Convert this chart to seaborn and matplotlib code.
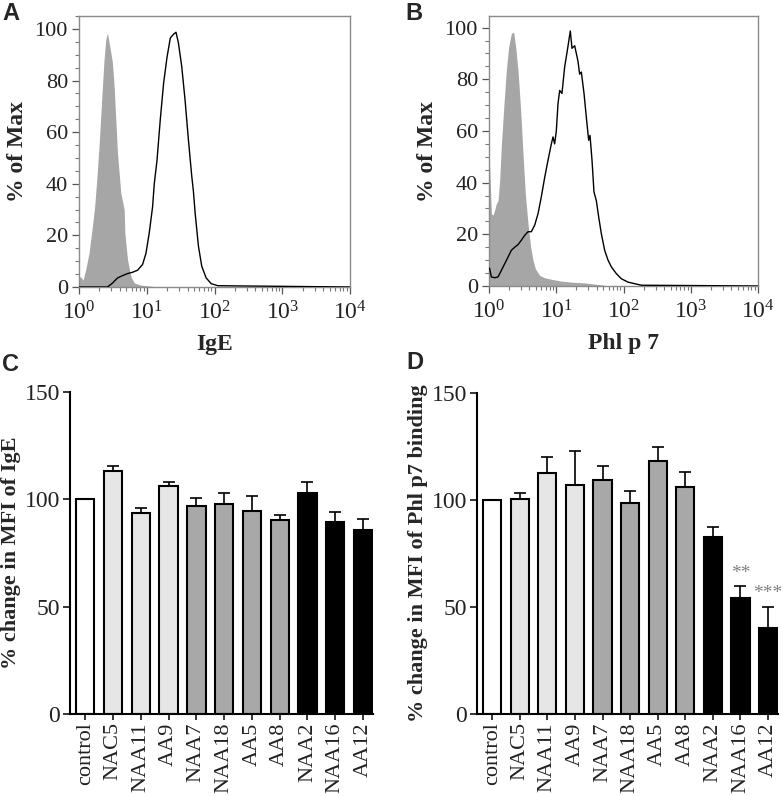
import numpy as np
import pandas as pd
import matplotlib
matplotlib.use("Agg")
import matplotlib.pyplot as plt
import seaborn as sns
from matplotlib.ticker import LogLocator, LogFormatterMathtext, MultipleLocator, NullFormatter

# ---------------- data ----------------
# Panel A (IgE) histograms: log10 intensity and % of max
a_iso_log = [0.0, 0.025, 0.059, 0.099, 0.148, 0.198, 0.232, 0.262, 0.296, 0.321,
             0.346, 0.370, 0.395, 0.420, 0.459, 0.494, 0.519, 0.543, 0.568, 0.617,
             0.657, 0.667, 0.677, 0.716, 0.765, 0.815, 0.900, 1.000, 1.086, 1.090]
a_iso_pct = [3.5, 4.1, 2.6, 6.7, 13.2, 23.5, 31.3, 41.6, 54.5, 66.1,
             77.8, 88.1, 95.9, 98.4, 92.6, 86.8, 77.8, 64.9, 51.9, 36.4,
             31.3, 30.0, 20.9, 10.6, 4.1, 1.6, 0.8, 0.5, 0.3, 0.0]
a_ige_log = [0.0, 0.420, 0.494, 0.568, 0.642, 0.716, 0.790, 0.864, 0.938, 0.988,
             1.037, 1.086, 1.111, 1.151, 1.200, 1.249, 1.299, 1.348, 1.398, 1.432,
             1.467, 1.516, 1.565, 1.615, 1.664, 1.689, 1.714, 1.763, 1.812, 1.877,
             1.951, 2.049, 4.0]
a_ige_pct = [0, 0, 1.5, 3.5, 4.4, 5.2, 5.7, 6.5, 8.7, 13,
             21, 31, 40, 49, 65, 79, 89, 96.5, 98, 98.7,
             94.6, 85.5, 72.6, 57, 43, 37, 28.7, 15.8, 8, 3.5,
             1.3, 0.5, 0]

# Panel B (Phl p 7) histograms
b_iso_log = [0.0, 0.010, 0.035, 0.059, 0.084, 0.109, 0.134, 0.159, 0.183, 0.223,
             0.258, 0.292, 0.332, 0.367, 0.397, 0.431, 0.471, 0.506, 0.540, 0.580,
             0.620, 0.654, 0.689, 0.753, 0.828, 0.927, 1.076, 1.224, 1.423, 1.621,
             1.720, 1.730]
b_iso_pct = [47, 46, 28, 27.4, 29.3, 31.9, 33, 41, 54, 70.6,
             83.5, 92.5, 97.7, 98.3, 92.5, 83.5, 68, 51, 35.7, 24,
             15, 10, 6.7, 4.1, 3.2, 2.6, 1.9, 1.5, 1.2, 0.6,
             0.3, 0]
b_phl_log = [0.0, 0.010, 0.035, 0.084, 0.134, 0.183, 0.233, 0.283, 0.332, 0.382,
             0.431, 0.481, 0.530, 0.580, 0.629, 0.679, 0.729, 0.778, 0.828, 0.877,
             0.927, 0.952, 0.976, 1.001, 1.026, 1.051, 1.085, 1.125, 1.165, 1.209,
             1.234, 1.274, 1.323, 1.348, 1.373, 1.413, 1.447, 1.482, 1.502, 1.532,
             1.561, 1.596, 1.631, 1.670, 1.720, 1.770, 1.819, 1.893, 1.968, 2.067,
             2.166, 2.265, 4.0]
b_phl_pct = [7, 6.7, 3.5, 3.2, 3.5, 6, 8.6, 11.2, 13.8, 15,
             16, 17.7, 19.6, 21, 21, 23.5, 28, 34.5, 42, 48.6,
             55, 57.7, 55, 60, 70.6, 75.7, 74.5, 84.8, 91.2, 98.7,
             92, 93, 87, 82, 82.8, 74.5, 65.4, 56.4, 58.3, 48.6,
             36.4, 33, 26.7, 20.3, 13.8, 10, 7.4, 4.8, 2.8, 1.5,
             0.9, 0.3, 0]

# Panels C / D bar data
categories = ["control", "NAC5", "NAA11", "AA9", "NAA7", "NAA18", "AA5", "AA8",
              "NAA2", "NAA16", "AA12"]
groups = ["control", "g1", "g1", "g1", "g2", "g2", "g2", "g2", "g3", "g3", "g3"]
ige_mean = [100, 113.0, 93.7, 106.3, 97.0, 97.9, 94.5, 90.2, 102.9, 89.4, 85.5]
ige_err = [0, 2.7, 2.1, 1.6, 3.4, 5.0, 7.2, 2.6, 5.0, 4.5, 5.4]
phl_mean = [100, 100.6, 112.6, 107.1, 109.2, 98.4, 118.0, 106.3, 82.5, 54.1, 40.1]
phl_err = [0, 2.9, 7.3, 15.6, 6.5, 5.6, 6.6, 6.6, 4.7, 5.5, 10.1]
phl_signif = {"NAA16": "**", "AA12": "***"}

# ---------------- style ----------------
sns.set_theme(style="ticks")
plt.rcParams['font.family'] = ['Liberation Serif', 'DejaVu Serif']
plt.rcParams['mathtext.fontset'] = 'custom'
plt.rcParams['mathtext.rm'] = 'Liberation Serif'
plt.rcParams['mathtext.it'] = 'Liberation Serif:italic'
plt.rcParams['mathtext.bf'] = 'Liberation Serif:bold'

group_colors = {"control": "#ffffff", "g1": "#e6e6e6", "g2": "#a8a8a8", "g3": "#000000"}
FILL = "#a6a6a6"
W, H = 783, 796
fig = plt.figure(figsize=(W / 100, H / 100), dpi=100)


def add_ax(left, top, right, bottom):
    return fig.add_axes([left / W, 1 - bottom / H, (right - left) / W, (bottom - top) / H])


def hist_panel(ax, iso_log, iso_pct, pos_log, pos_pct, xlabel, ytop):
    xi = 10 ** np.array(iso_log)
    ax.fill_between(xi, iso_pct, 0, color=FILL, linewidth=0, zorder=1)
    df = pd.DataFrame({"x": 10 ** np.array(pos_log), "y": pos_pct})
    sns.lineplot(data=df, x="x", y="y", color="black", linewidth=1.0, sort=False,
                 estimator=None, ax=ax, zorder=3)
    ax.set_xscale("log")
    ax.set_xlim(1, 1e4)
    ax.set_ylim(0, ytop)
    ax.xaxis.set_major_locator(LogLocator(base=10, numticks=10))
    ax.xaxis.set_major_formatter(LogFormatterMathtext())
    ax.xaxis.set_minor_locator(LogLocator(base=10, subs=np.arange(2, 10), numticks=20))
    ax.xaxis.set_minor_formatter(NullFormatter())
    ax.yaxis.set_major_locator(MultipleLocator(20))
    ax.yaxis.set_minor_locator(MultipleLocator(5))
    for s in ax.spines.values():
        s.set_visible(True)
        s.set_color("#8a8a8a")
        s.set_linewidth(1.0)
    ax.tick_params(which="major", direction="out", length=5, width=0.9, color="#555555",
                   labelsize=16, labelcolor="#222222", pad=3)
    ax.tick_params(axis="x", which="major", labelsize=17, pad=5)
    ax.tick_params(which="minor", direction="out", length=3, width=0.8, color="#777777")
    ax.set_xlabel(xlabel, fontsize=17, fontweight="bold", labelpad=7)
    ax.set_ylabel("% of Max", fontsize=17, fontweight="bold", labelpad=5)


def bar_panel(ax, means, errs, ylabel, signif=None):
    df = pd.DataFrame({"cat": categories, "val": means, "grp": groups})
    pal = {c: group_colors[g] for c, g in zip(categories, groups)}
    sns.barplot(data=df, x="cat", y="val", hue="cat", palette=pal, legend=False,
                width=0.66, edgecolor="black", linewidth=1.5, ax=ax, zorder=2)
    xs = np.arange(len(categories))
    ax.errorbar(xs, means, yerr=[np.zeros(len(errs)), errs], fmt="none", ecolor="black",
                elinewidth=1.2, capsize=4, capthick=1.2, zorder=1)
    ax.set_xlim(-0.55, len(categories) - 1 + 0.36)
    ax.set_ylim(0, 150)
    ax.yaxis.set_major_locator(MultipleLocator(50))
    ax.set_xticks(xs)
    ax.set_xticklabels(categories, rotation=90)
    sns.despine(ax=ax)
    for s in ["left", "bottom"]:
        ax.spines[s].set_linewidth(1.5)
        ax.spines[s].set_color("black")
    ax.tick_params(axis="y", direction="out", length=5, width=1.3, labelsize=17, pad=2,
                   labelcolor="#222222")
    ax.tick_params(axis="x", direction="out", length=4, width=1.3, labelsize=16, pad=2,
                   labelcolor="#222222")
    ax.set_xlabel("")
    ax.set_ylabel(ylabel, fontsize=16, fontweight="bold", labelpad=3)
    if signif:
        for cat, txt in signif.items():
            i = categories.index(cat)
            top = means[i] + errs[i]
            ax.text(i, top + 6, txt, ha="center", va="center", fontsize=14,
                    color="#808080")


axA = add_ax(79, 16, 350, 287)
hist_panel(axA, a_iso_log, a_iso_pct, a_ige_log, a_ige_pct, "IgE", 105)
axB = add_ax(489, 16, 758, 286)
hist_panel(axB, b_iso_log, b_iso_pct, b_phl_log, b_phl_pct, "Phl p 7", 104.5)

axC = add_ax(70, 392, 373, 714)
bar_panel(axC, ige_mean, ige_err, "% change in MFI of IgE")
axD = add_ax(477, 393, 778, 714)
bar_panel(axD, phl_mean, phl_err, "% change in MFI of Phl p7 binding", phl_signif)

for lbl, x, y in [("A", 2, 2), ("B", 405, 2), ("C", 2, 353), ("D", 406, 351)]:
    fig.text(x / W, 1 - y / H, lbl, fontsize=17, fontweight="bold",
             family=["Liberation Sans", "DejaVu Sans"], ha="left", va="top")

fig.savefig("out.png", dpi=100)
